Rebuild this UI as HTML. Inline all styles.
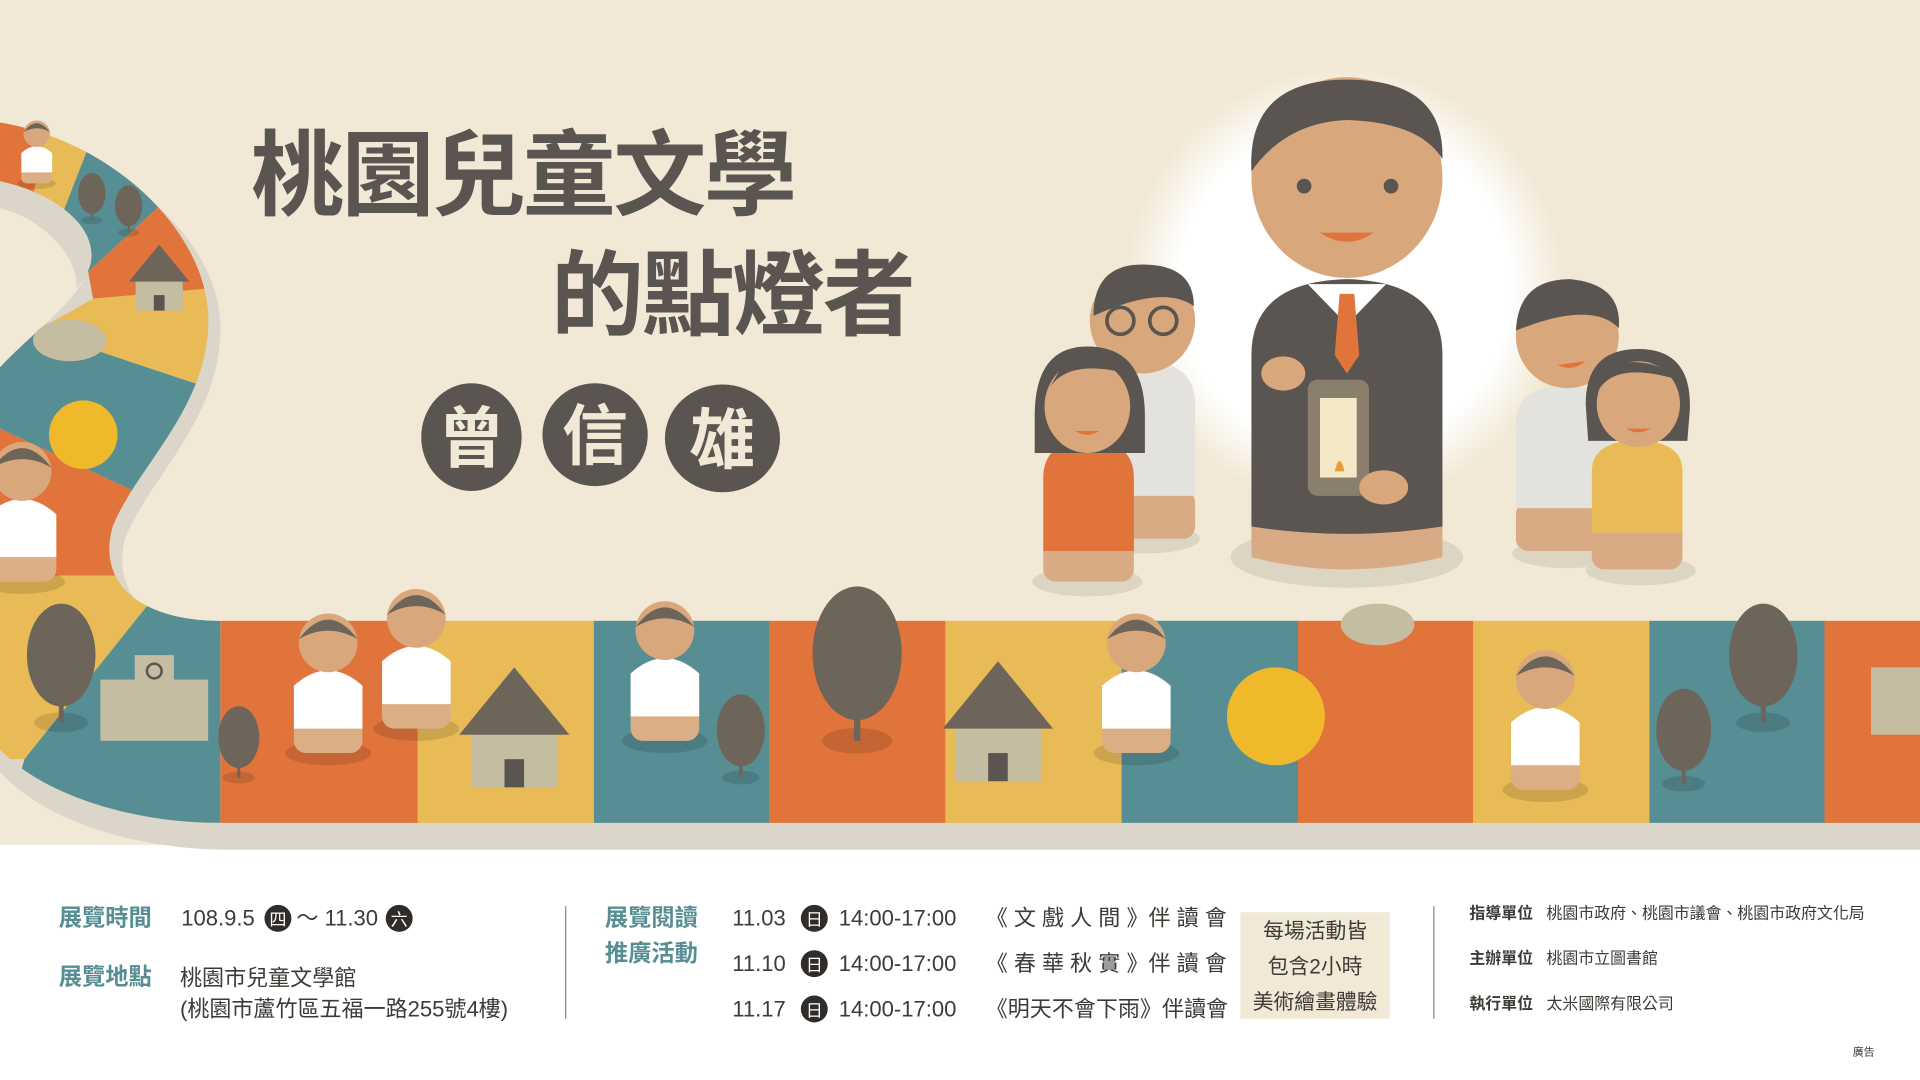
<!DOCTYPE html>
<html><head><meta charset="utf-8">
<style>
html,body{margin:0;padding:0;background:#fff;}
svg{display:block}
text{font-family:"Liberation Sans","Noto Sans CJK TC",sans-serif;}
</style></head>
<body>
<svg width="1920" height="1080" viewBox="0 0 1568 882" preserveAspectRatio="none" xmlns="http://www.w3.org/2000/svg">
<defs>
<clipPath id="roadclip"><path d="M0,100 C90,115 165,185 170,255 C174,330 112,380 92,430 C78,480 120,507 180,507 L180,672 C100,672 30,645 0,612 Z"/></clipPath>
<radialGradient id="glow" cx="50%" cy="50%" r="50%"><stop offset="0.75" stop-color="#fff"/><stop offset="1" stop-color="#fff" stop-opacity="0"/></radialGradient>
</defs>
<rect x="0" y="0" width="1568" height="700" fill="#f1e9d5"/>
<rect x="0" y="690" width="1568" height="192" fill="#fff"/>
<!-- road shadow -->
<path d="M0,110 C100,125 178,195 180,265 C182,340 122,390 102,440 C90,490 130,520 190,520 L1568,520 L1568,694 L190,694 C100,694 30,665 0,630 Z" fill="#dcd6ca"/>
<g clip-path="url(#roadclip)">
<polygon points="0,90 40,90 20,200 0,200" fill="#e0743b"/>
<polygon points="40,90 80,100 45,190 20,200" fill="#e9bb57"/>
<polygon points="80,100 150,150 72,222 45,190" fill="#578e93"/>
<polygon points="150,150 210,232 76,244 72,222" fill="#e0743b"/>
<polygon points="210,232 210,330 30,270 76,244" fill="#e9bb57"/>
<polygon points="210,330 150,420 0,350 0,270 30,270" fill="#578e93"/>
<polygon points="0,350 150,420 110,470 0,470" fill="#e0743b"/>
<polygon points="0,470 110,470 120,495 20,620 0,620" fill="#e9bb57"/>
<polygon points="120,495 220,495 190,690 0,690 20,620" fill="#578e93"/>
</g>
<path d="M0,148 C45,158 80,185 74,215 C66,245 30,268 0,300 Z" fill="#f1e9d5"/>
<path d="M0,148 C45,158 80,185 74,215 C72,222 68,230 62,236 C66,215 40,180 0,170 Z" fill="#dcd6ca"/>
<g id="strip"></g>

<!-- title -->
<text x="205" y="170" font-size="76" font-weight="bold" fill="#5a5550" letter-spacing="-2">桃園兒童文學</text>
<text x="450" y="268" font-size="76" font-weight="bold" fill="#5a5550" letter-spacing="-2">的點燈者</text>
<g>
<ellipse cx="385" cy="357" rx="41" ry="44" fill="#5a5550"/>
<ellipse cx="486" cy="355" rx="43" ry="42" fill="#5a5550"/>
<ellipse cx="590" cy="358" rx="47" ry="44" fill="#5a5550"/>
<text x="385" y="377" font-size="54" font-weight="bold" fill="#f1e9d5" text-anchor="middle">曾</text>
<text x="486" y="375" font-size="54" font-weight="bold" fill="#f1e9d5" text-anchor="middle">信</text>
<text x="590" y="378" font-size="54" font-weight="bold" fill="#f1e9d5" text-anchor="middle">雄</text>
</g>

<!-- glow & main figure -->
<circle cx="1098" cy="235" r="180" fill="url(#glow)"/>
<g>
<ellipse cx="1100" cy="455" rx="95" ry="25" fill="#ddd5c3"/>
<path d="M1022,420 L1178,420 L1178,455 Q1100,475 1022,455 Z" fill="#d9ab85"/>
<path d="M1022,430 L1022,290 Q1022,230 1100,228 Q1178,230 1178,290 L1178,430 Q1100,442 1022,430 Z" fill="#5a5550"/>
<path d="M1068,232 L1100,265 L1132,232 Z" fill="#fff"/>
<path d="M1094,240 L1106,240 L1110,290 L1100,305 L1090,290 Z" fill="#e0743b"/>
<ellipse cx="1100" cy="145" rx="78" ry="82" fill="#d9a77c"/>
<path d="M1022,140 Q1018,65 1100,65 Q1180,65 1178,130 Q1160,100 1100,98 Q1050,100 1022,140 Z" fill="#5a5550"/>
<circle cx="1065" cy="152" r="6" fill="#5a5550"/><circle cx="1136" cy="152" r="6" fill="#5a5550"/>
<path d="M1078,190 Q1100,205 1122,190 Z" fill="#e0743b"/>
<rect x="1068" y="310" width="50" height="95" rx="8" fill="#8a7f6c"/>
<rect x="1078" y="325" width="30" height="65" fill="#f4e8c6"/>
<path d="M1090,385 Q1094,368 1098,385 Z" fill="#e89b3b"/>
<ellipse cx="1048" cy="305" rx="18" ry="14" fill="#d9a77c"/>
<ellipse cx="1130" cy="398" rx="20" ry="14" fill="#d9a77c"/>
</g>
<!-- left group -->
<g>
<ellipse cx="935" cy="440" rx="45" ry="12" fill="#ddd5c3"/>
<rect x="890" y="400" width="86" height="40" rx="10" fill="#d9ab85"/>
<path d="M890,405 L890,330 Q890,295 933,295 Q976,295 976,330 L976,405 Z" fill="#e4e2dd"/>
<circle cx="933" cy="262" r="43" fill="#d9a77c"/>
<path d="M893,258 Q893,216 933,216 Q975,216 975,250 Q950,232 893,258 Z" fill="#5a5550"/>
<circle cx="915" cy="262" r="11" fill="none" stroke="#5a5550" stroke-width="3"/><circle cx="950" cy="262" r="11" fill="none" stroke="#5a5550" stroke-width="3"/>
</g>
<g>
<ellipse cx="888" cy="475" rx="45" ry="12" fill="#ddd5c3"/>
<rect x="852" y="440" width="74" height="35" rx="10" fill="#d9ab85"/>
<path d="M852,450 L852,390 Q852,360 889,360 Q926,360 926,390 L926,450 Z" fill="#e0743b"/>
<path d="M845,340 Q845,283 888,283 Q935,283 935,340 L935,370 L845,370 Z" fill="#5a5550"/>
<ellipse cx="888" cy="332" rx="35" ry="38" fill="#d9a77c"/>
<path d="M855,320 Q870,292 920,305 Q900,290 870,295 Z" fill="#5a5550"/>
<path d="M878,352 Q888,358 898,352 Z" fill="#e0743b"/>
</g>
<!-- right group -->
<g>
<ellipse cx="1280" cy="452" rx="45" ry="12" fill="#ddd5c3"/>
<rect x="1238" y="410" width="82" height="40" rx="10" fill="#d9ab85"/>
<path d="M1238,415 L1238,345 Q1238,315 1279,315 Q1320,315 1320,345 L1320,415 Z" fill="#e4e2dd"/>
<circle cx="1280" cy="275" r="42" fill="#d9a77c"/>
<path d="M1238,270 Q1240,228 1282,228 Q1325,232 1322,268 Q1300,245 1238,270 Z" fill="#5a5550"/>
<path d="M1272,298 Q1284,304 1295,295 Z" fill="#e0743b"/>
</g>
<g>
<ellipse cx="1340" cy="466" rx="45" ry="12" fill="#ddd5c3"/>
<rect x="1300" y="425" width="74" height="40" rx="10" fill="#d9ab85"/>
<path d="M1300,435 L1300,385 Q1300,360 1337,360 Q1374,360 1374,385 L1374,435 Z" fill="#e9bb57"/>
<path d="M1295,330 Q1295,285 1338,285 Q1382,285 1380,335 L1378,360 L1297,360 Z" fill="#5a5550"/>
<ellipse cx="1338" cy="330" rx="34" ry="35" fill="#d9a77c"/>
<path d="M1306,318 Q1320,295 1370,310 Q1350,290 1315,298 Z" fill="#5a5550"/>
<path d="M1328,350 Q1338,356 1348,350 Z" fill="#e0743b"/>
</g>
<g id="deco"></g>

<!-- info section -->
<g font-size="18">
<text x="48" y="756" font-weight="bold" fill="#578e93" font-size="19">展覽時間</text>
<text x="148" y="756" fill="#3e3a36">108.9.5<tspan fill="#fff" font-size="14"> </tspan></text>
<circle cx="227" cy="750" r="11" fill="#2f2c2a"/><text x="227" y="756" font-size="14" fill="#fff" text-anchor="middle">四</text>
<text x="242" y="756" fill="#3e3a36">～ 11.30</text>
<circle cx="326" cy="750" r="11" fill="#2f2c2a"/><text x="326" y="756" font-size="14" fill="#fff" text-anchor="middle">六</text>
<text x="48" y="804" font-weight="bold" fill="#578e93" font-size="19">展覽地點</text>
<text x="147" y="805" fill="#3e3a36">桃園市兒童文學館</text>
<text x="147" y="830" fill="#3e3a36">(桃園市蘆竹區五福一路255號4樓)</text>
<line x1="462" y1="740" x2="462" y2="832" stroke="#888" stroke-width="1"/>
<text x="494" y="756" font-weight="bold" fill="#578e93" font-size="19">展覽閱讀</text>
<text x="494" y="785" font-weight="bold" fill="#578e93" font-size="19">推廣活動</text>
<g id="events"></g>
<rect x="1013" y="745" width="122" height="87" fill="#f1e9d5"/>
<text x="1074" y="766" text-anchor="middle" fill="#3e3a36" font-size="17">每場活動皆</text>
<text x="1074" y="795" text-anchor="middle" fill="#3e3a36" font-size="17">包含2小時</text>
<text x="1074" y="824" text-anchor="middle" fill="#3e3a36" font-size="17">美術繪畫體驗</text>
<line x1="1171" y1="740" x2="1171" y2="832" stroke="#888" stroke-width="1"/>
<text x="1200" y="750" font-size="13" font-weight="bold" fill="#3e3a36">指導單位</text>
<text x="1263" y="750" font-size="13" fill="#3e3a36">桃園市政府、桃園市議會、桃園市政府文化局</text>
<text x="1200" y="787" font-size="13" font-weight="bold" fill="#3e3a36">主辦單位</text>
<text x="1263" y="787" font-size="13" fill="#3e3a36">桃園市立圖書館</text>
<text x="1200" y="824" font-size="13" font-weight="bold" fill="#3e3a36">執行單位</text>
<text x="1263" y="824" font-size="13" fill="#3e3a36">太米國際有限公司</text>
<text x="1513" y="862" font-size="9" fill="#3e3a36">廣告</text>
</g>
</svg>
<script>
const NS="http://www.w3.org/2000/svg";
const stripColors=["#e0743b","#e9bb57","#578e93","#e0743b","#e9bb57","#578e93","#e0743b","#e9bb57","#578e93","#e0743b"];
const stripStarts=[180,341,485,628,772,916,1060,1203,1347,1490];
const strip=document.getElementById('strip');
stripColors.forEach((c,i)=>{
  const r=document.createElementNS(NS,'rect');
  
  
  const x=stripStarts[i], w=(i<stripStarts.length-1?stripStarts[i+1]:1568)-x;
  r.setAttribute('x',x);r.setAttribute('y',507);r.setAttribute('width',w+0.5);r.setAttribute('height',165);r.setAttribute('fill',c);
  strip.appendChild(r);
});
const deco=document.getElementById('deco');
function add(tag,attrs,name){const e=document.createElementNS(NS,tag);for(const k in attrs)e.setAttribute(k,attrs[k]);
  
  
  deco.appendChild(e);return e;}
const trees=[[50,540,1],[195,605,0.6],[605,600,0.7],[700,540,1.3],[1375,600,0.8],[1440,540,1],[75,160,0.4],[105,170,0.4]];
trees.forEach(t=>{const[x,y,s]=t;
  add('ellipse',{cx:x,cy:y+50*s,rx:22*s,ry:8*s,fill:'rgba(0,0,0,0.12)'},'tree-shadow');
  add('rect',{x:x-2*s,y:y,width:4*s,height:50*s,fill:'#6e655a'},'tree-trunk');
  add('ellipse',{cx:x,cy:y-5*s,rx:28*s,ry:42*s,fill:'#6e655a'},'tree');});
const houses=[[420,600,1],[815,595,1],[130,230,0.55]];
houses.forEach(h=>{const[x,y,s]=h;
  add('rect',{x:x-35*s,y:y-5*s,width:70*s,height:48*s,fill:'#c4bda2'},'house-wall');
  add('polygon',{points:`${x-45*s},${y} ${x},${y-55*s} ${x+45*s},${y}`,fill:'#6e655a'},'house-roof');
  add('rect',{x:x-8*s,y:y+20*s,width:16*s,height:23*s,fill:'#5a5550'},'house-door');});
add('rect',{x:82,y:555,width:88,height:50,fill:'#c4bda2'},'school');
add('rect',{x:110,y:535,width:32,height:22,fill:'#c4bda2'},'school-tower');
add('circle',{cx:126,cy:548,r:6,fill:'none',stroke:'#5a5550','stroke-width':2},'school-clock');
add('rect',{x:1528,y:545,width:40,height:55,fill:'#c4bda2'},'school-right');
const suns=[[1042,585,40],[68,355,28]];
suns.forEach(s=>{add('circle',{cx:s[0],cy:s[1],r:s[2],fill:'#f0b92c'},'sun');});
const clouds=[[1125,510],[57,278]];
clouds.forEach(c=>{add('ellipse',{cx:c[0],cy:c[1],rx:30,ry:17,fill:'#c4bda2'},'rain-cloud');});
const kids=[[268,560,'#e0743b'],[340,540,'#e0743b'],[543,550,'#578e93'],[928,560,'#578e93'],[1262,590,'#e9bb57'],[18,420,'#e0743b'],[30,125,'#e9bb57']];
kids.forEach((k,i)=>{const[x,y]=k;const s=i>=6?0.45:1;
  add('ellipse',{cx:x,cy:y+55*s,rx:35*s,ry:10*s,fill:'rgba(0,0,0,0.12)'},'kid-shadow');
  add('rect',{x:x-28*s,y:y+25*s,width:56*s,height:30*s,rx:10*s,fill:'#dcae85'},'kid-base');
  add('path',{d:`M${x-28*s},${y+35*s} L${x-28*s},${y} Q${x},${y-25*s} ${x+28*s},${y} L${x+28*s},${y+35*s} Z`,fill:'#fff'},'kid-body');
  add('circle',{cx:x,cy:y-35*s,r:24*s,fill:'#d9a77c'},'kid-head');
  add('path',{d:`M${x-24*s},${y-38*s} Q${x},${y-70*s} ${x+24*s},${y-38*s} Q${x},${y-52*s} ${x-24*s},${y-38*s} Z`,fill:'#6e655a'},'kid-hair');});
const evDates=["11.03","11.10","11.17"];
const evTitles=["《 文 戲 人 間 》伴 讀 會","《 春 華 秋 實 》伴 讀 會","《明天不會下雨》伴讀會"];
const ev=document.getElementById('events');
evDates.forEach((d,i)=>{const y=756+i*37;
  const mk=(tag,a,name)=>{const e=document.createElementNS(NS,tag);for(const k in a)e.setAttribute(k,a[k]);
    
    
    ev.appendChild(e);return e;};
  mk('text',{x:598,y:y,fill:'#3e3a36'},'event-date').textContent=d;
  mk('circle',{cx:665,cy:y-6,r:11,fill:'#2f2c2a'},'event-day-badge');
  mk('text',{x:665,y:y,'font-size':14,fill:'#fff','text-anchor':'middle'},'event-day').textContent='日';
  mk('text',{x:685,y:y,fill:'#3e3a36'},'event-time').textContent='14:00-17:00';
  mk('text',{x:805,y:y,fill:'#3e3a36'},'event-title').textContent=evTitles[i];
});
</script>
</body></html>
